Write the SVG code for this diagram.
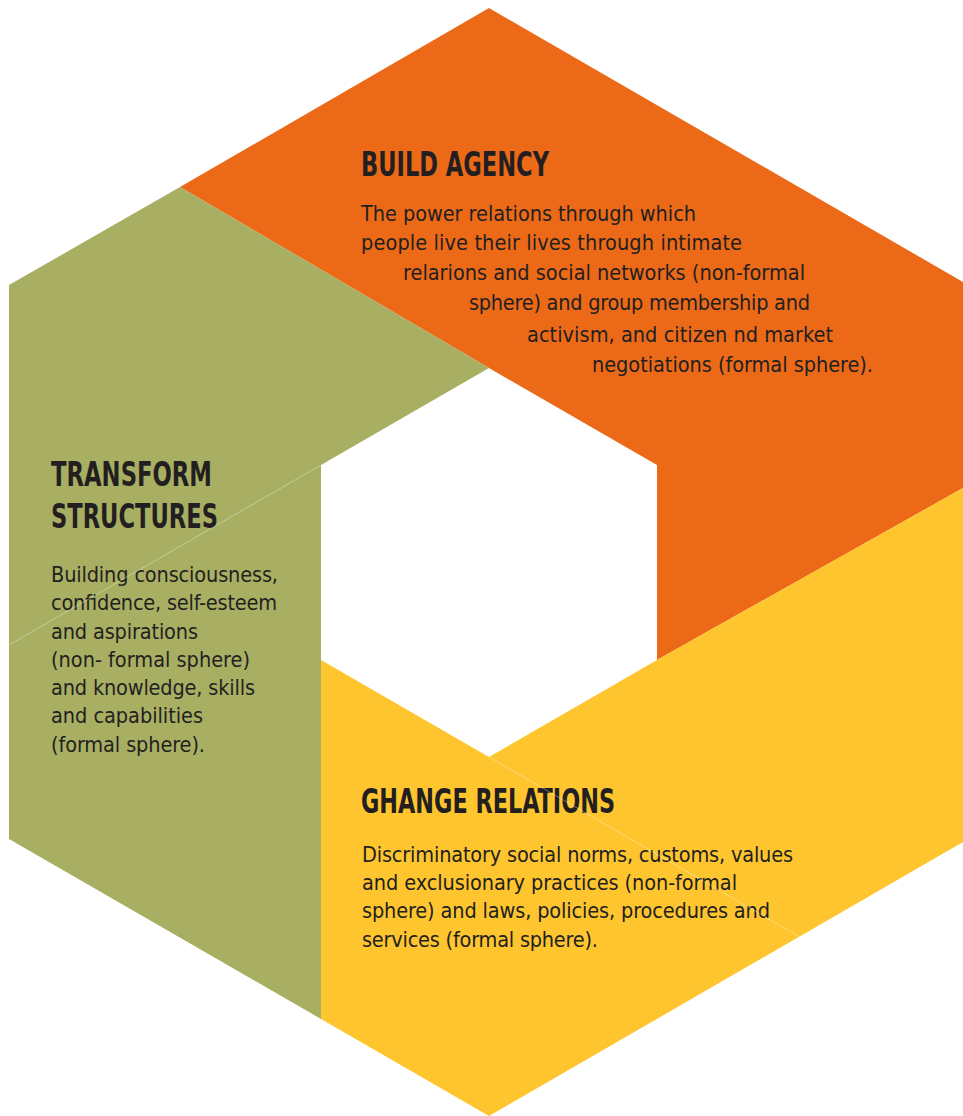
<svg xmlns="http://www.w3.org/2000/svg" width="963" height="1116" viewBox="0 0 963 1116">
  <style>
    .head { font-family: "Liberation Sans Narrow", "DejaVu Sans Condensed", "Liberation Sans", sans-serif; font-weight: bold; font-size: 33px; fill: #231f20; }
    .body { font-family: "DejaVu Sans Condensed", "Liberation Sans", sans-serif; font-size: 21.5px; fill: #231f20; }
    .seam { stroke: #ffffff; stroke-opacity: 0.45; stroke-width: 0.8; fill: none; }
  </style>
  <rect width="963" height="1116" fill="#ffffff"/>

  <g id="build-agency">
    <polygon points="180,187 489,8 963,282 963,488 657,660 657,465 489,368" fill="#EC6A17"/>
    <text class="head" x="361" y="176" textLength="188" lengthAdjust="spacingAndGlyphs">BUILD AGENCY</text>
    <text class="body" x="361" y="221" textLength="335">The power relations through which</text>
    <text class="body" x="361" y="250" textLength="381">people live their lives through intimate</text>
    <text class="body" x="403" y="280" textLength="402">relarions and social networks (non-formal</text>
    <text class="body" x="469" y="310" textLength="341">sphere) and group membership and</text>
    <text class="body" x="527" y="342" textLength="306">activism, and citizen nd market</text>
    <text class="body" x="592" y="372" textLength="281">negotiations (formal sphere).</text>
  </g>

  <g id="transform-structures">
    <polygon points="9,285 180,187 489,368 321,465 321,1019 9,839" fill="#A8AF63"/>
    <text class="head" x="51" y="486" textLength="161" lengthAdjust="spacingAndGlyphs">TRANSFORM</text>
    <text class="head" x="51" y="528" textLength="167" lengthAdjust="spacingAndGlyphs">STRUCTURES</text>
    <text class="body" x="51" y="582" textLength="227">Building consciousness,</text>
    <text class="body" x="51" y="610" textLength="226">confidence, self-esteem</text>
    <text class="body" x="51" y="639" textLength="147">and aspirations</text>
    <text class="body" x="51" y="667" textLength="199">(non- formal sphere)</text>
    <text class="body" x="51" y="695" textLength="204">and knowledge, skills</text>
    <text class="body" x="51" y="723" textLength="152">and capabilities</text>
    <text class="body" x="51" y="752" textLength="154">(formal sphere).</text>
  </g>

  <g id="change-relations">
    <polygon points="321,660 489,757 657,660 963,488 963,842 489,1116 321,1019" fill="#FEC52E"/>
    <text class="head" x="361" y="813" textLength="254" lengthAdjust="spacingAndGlyphs">GHANGE RELATIONS</text>
    <text class="body" x="362" y="862" textLength="431">Discriminatory social norms, customs, values</text>
    <text class="body" x="362" y="890" textLength="375">and exclusionary practices (non-formal</text>
    <text class="body" x="362" y="918" textLength="408">sphere) and laws, policies, procedures and</text>
    <text class="body" x="362" y="947" textLength="236">services (formal sphere).</text>
  </g>

  <g id="connectors">
    <line class="seam" x1="9" y1="645" x2="321" y2="465"/>
    <line class="seam" x1="489" y1="757" x2="800" y2="937"/>
  </g>
</svg>
